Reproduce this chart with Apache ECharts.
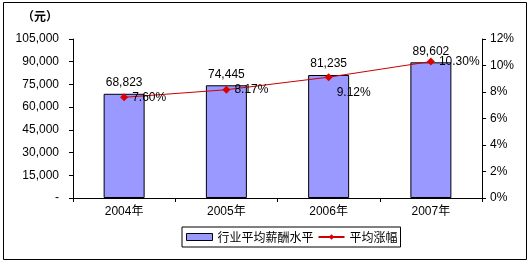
<!DOCTYPE html>
<html><head><meta charset="utf-8">
<script src="https://cdn.jsdelivr.net/npm/echarts@6/dist/echarts.min.js"></script>
<style>html,body{margin:0;padding:0;background:#fff}#c{width:530px;height:263px}</style>
</head><body><div id="c"></div>
<script>
var categories = ['2004年','2005年','2006年','2007年'];
var salary = [68823, 74445, 81235, 89602];
var growth = [7.60, 8.17, 9.12, 10.30];
var leftTicks = {min: 0, max: 105000, interval: 15000};
var rightTicks = {min: 0, max: 12, interval: 2};
var seriesNames = ['行业平均薪酬水平', '平均涨幅'];
var unitLabel = '（元）';

var font = '"Liberation Sans", Arial, "Noto Sans CJK SC", sans-serif';
var cjk = '"Noto Sans CJK SC", "Liberation Sans", sans-serif';
function comma(v){ return v === 0 ? '-' : String(v).replace(/\B(?=(\d{3})+(?!\d))/g, ','); }

var chart = echarts.init(document.getElementById('c'), null, {renderer: 'canvas'});
chart.setOption({
  animation: false,
  backgroundColor: '#fff',
  textStyle: {fontFamily: font, color: '#000'},
  grid: {left: 73, right: 48, top: 39, bottom: 65},
  graphic: [
    {type: 'rect', shape: {x: 3.5, y: 2.5, width: 523, height: 257}, style: {fill: 'none', stroke: '#000', lineWidth: 1}, silent: true},
    {type: 'text', left: 22, top: 10, style: {text: unitLabel, font: 'bold 12px ' + cjk, fill: '#000'}}
  ],
  legend: {
    left: 182, top: 227,
    width: 222,
    borderColor: '#000', borderWidth: 1,
    padding: [4, 3, 4, 4],
    itemGap: 4,
    itemWidth: 26, itemHeight: 7,
    textStyle: {fontFamily: cjk, fontSize: 12, color: '#000'},
    data: [
      {name: seriesNames[0], icon: 'rect', itemStyle: {color: '#9999ff', borderColor: '#000', borderWidth: 1}},
      {name: seriesNames[1]}
    ]
  },
  xAxis: {
    type: 'category', data: categories,
    axisLine: {lineStyle: {color: '#000', width: 1}},
    axisTick: {show: true, inside: false, length: 4, lineStyle: {color: '#000'}},
    axisLabel: {color: '#000', fontSize: 12, fontFamily: font, margin: 8},
    splitLine: {show: false}
  },
  yAxis: [
    {
      type: 'value', min: leftTicks.min, max: leftTicks.max, interval: leftTicks.interval,
      axisLine: {show: true, lineStyle: {color: '#000'}},
      axisTick: {show: true, length: 4, lineStyle: {color: '#000'}},
      axisLabel: {color: '#000', fontSize: 12, fontFamily: font, margin: 14, formatter: comma},
      splitLine: {show: false}
    },
    {
      type: 'value', min: rightTicks.min, max: rightTicks.max, interval: rightTicks.interval,
      axisLine: {show: true, lineStyle: {color: '#000'}},
      axisTick: {show: true, length: 4, lineStyle: {color: '#000'}},
      axisLabel: {color: '#000', fontSize: 12, fontFamily: font, margin: 8, formatter: function(v){ return v + '%'; }},
      splitLine: {show: false}
    }
  ],
  series: [
    {
      name: seriesNames[0], type: 'bar', data: salary, barWidth: 41,
      itemStyle: {color: '#9999ff', borderColor: '#000', borderWidth: 1},
      label: {show: true, position: 'top', distance: 5, color: '#000', fontSize: 12, fontFamily: font,
        formatter: function(p){ return comma(p.value); }}
    },
    {
      name: seriesNames[1], type: 'line', yAxisIndex: 1,
      data: growth.map(function(v, i){
        var d = {value: v};
        if (i === 2) d.label = {offset: [0, 16]};
        return d;
      }),
      symbol: 'diamond', symbolSize: 8,
      lineStyle: {color: '#cc0000', width: 1},
      itemStyle: {color: '#dd0000'},
      label: {show: true, position: 'right', distance: 4, color: '#000', fontSize: 12, fontFamily: font,
        formatter: function(p){ return p.value.toFixed(2) + '%'; }}
    }
  ]
});
</script>
</body></html>
